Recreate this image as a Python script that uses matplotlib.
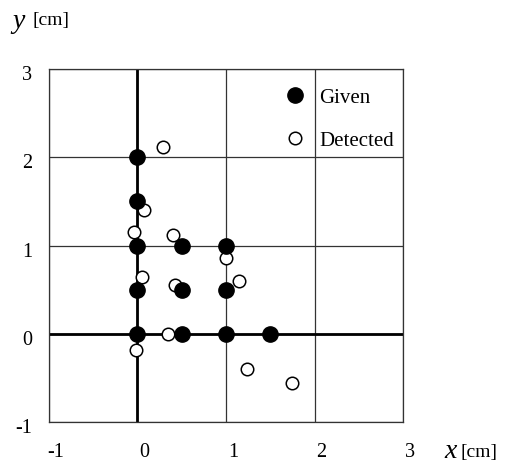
import matplotlib
matplotlib.use('Agg')
import matplotlib.pyplot as plt
import matplotlib.transforms as mtransforms

# points, in cm
given_x = [0, 0, 0, 0, 0, 0.5, 0.5, 0.5, 1, 1, 1, 1.5]
given_y = [2, 1.5, 1, 0.5, 0, 1, 0.5, 0, 1, 0.5, 0, 0]

detected_x = [0.29, 0.07, -0.04, 0.40, 1.0, 0.05, 0.42, 1.15, 0.34, -0.02, 1.24, 1.75]
detected_y = [2.12, 1.40, 1.15, 1.12, 0.86, 0.64, 0.55, 0.60, 0.0, -0.19, -0.40, -0.56]

ticks = [-1, 0, 1, 2, 3]
tick_labels = ['-1', '0', '1', '2', '3']

plt.rcParams['font.family'] = ['Liberation Serif', 'DejaVu Serif']

W, H = 515, 468
fig = plt.figure(figsize=(W / 100, H / 100), dpi=100)
ax = fig.add_axes([0.0946, 0.0989, 0.6885, 0.753])

ax.set_xlim(-1, 3)
ax.set_ylim(-1, 3)
ax.set_xticks(ticks)
ax.set_yticks(ticks)
ax.set_xticklabels(tick_labels, fontsize=14.5)
ax.set_yticklabels(tick_labels, fontsize=14.5)
ax.tick_params(length=0)
ax.tick_params(axis='x', pad=15)
ax.tick_params(axis='y', pad=12)

# labels in the original sit a little off their grid lines
dx = mtransforms.ScaledTranslation(7 / 100, 0, fig.dpi_scale_trans)
dy = mtransforms.ScaledTranslation(0, -4 / 100, fig.dpi_scale_trans)
for lbl in ax.get_xticklabels():
    lbl.set_transform(lbl.get_transform() + dx)
for lbl in ax.get_yticklabels():
    lbl.set_transform(lbl.get_transform() + dy)

ax.grid(True, color='#333333', linewidth=0.9)
ax.set_axisbelow(True)
for s in ax.spines.values():
    s.set_linewidth(0.9)
    s.set_color('#333333')
ax.axhline(0, color='black', linewidth=2, zorder=1)
ax.axvline(0, color='black', linewidth=2, zorder=1)

ax.plot(detected_x, detected_y, 'o', mfc='white', mec='black', mew=1.1,
        ms=9, linestyle='none', label='Detected', zorder=3)
ax.plot(given_x, given_y, 'o', color='black', ms=11, linestyle='none',
        label='Given', zorder=4)

handles, labels = ax.get_legend_handles_labels()
ax.legend(handles[::-1], labels[::-1], loc='upper left',
          bbox_to_anchor=(284.6 / W, 1 - 88 / H), bbox_transform=fig.transFigure,
          frameon=False, fontsize=15, handletextpad=0.65, labelspacing=1.12,
          handlelength=1.0, borderaxespad=0, borderpad=0)

fig.text(12 / W, 1 - 21 / H, 'y', fontsize=20, style='italic', va='center')
fig.text(32 / W, 1 - 21 / H, '[cm]', fontsize=14, va='center')
fig.text(444 / W, 1 - 452 / H, 'x', fontsize=20, style='italic', va='center')
fig.text(460 / W, 1 - 452 / H, '[cm]', fontsize=14, va='center')

fig.savefig('out.png', dpi=100)
